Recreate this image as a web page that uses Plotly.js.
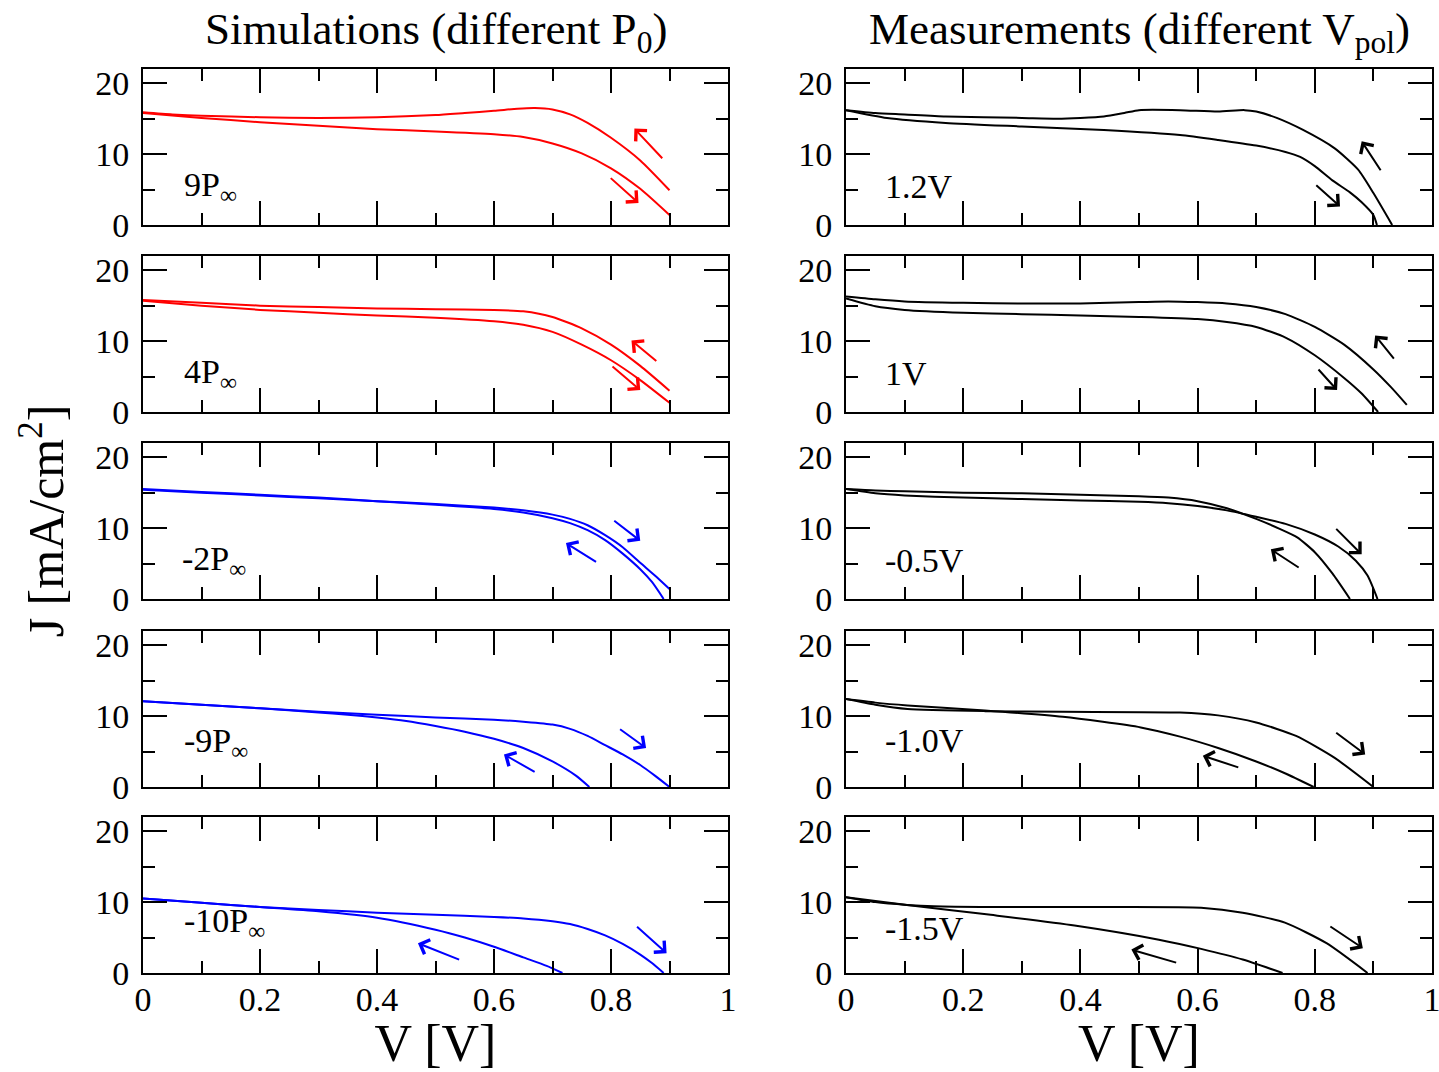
<!DOCTYPE html>
<html><head><meta charset="utf-8">
<script src="https://cdn.plot.ly/plotly-3.0.1.min.js"></script>
<style>html,body{margin:0;padding:0;background:#fff}#chart{width:1439px;height:1072px}</style>
</head><body><div id="chart"></div>
<script>
// ---------- DATA ----------
// Simulations 9P∞
const sim9_revV = [0,0.05,0.1,0.2,0.3,0.4,0.5,0.55,0.6,0.64,0.67,0.7,0.73,0.76,0.8,0.85,0.9];
const sim9_revJ = [15.9,15.6,15.4,15.2,15.1,15.2,15.5,15.8,16.1,16.4,16.5,16.3,15.6,14.4,12.3,9.1,4.9];
const sim9_fwdV = [0,0.1,0.2,0.3,0.4,0.5,0.6,0.65,0.7,0.75,0.8,0.85,0.9];
const sim9_fwdJ = [15.8,15.1,14.5,14.0,13.5,13.2,12.8,12.4,11.5,10.1,8.0,5.1,1.4];
// Simulations 4P∞
const sim4_revV = [0,0.1,0.2,0.3,0.4,0.5,0.6,0.65,0.7,0.75,0.8,0.85,0.9];
const sim4_revJ = [15.8,15.4,15.0,14.8,14.6,14.5,14.4,14.2,13.4,11.8,9.5,6.5,3.0];
const sim4_fwdV = [0,0.1,0.2,0.3,0.4,0.5,0.6,0.65,0.7,0.75,0.8,0.85,0.9];
const sim4_fwdJ = [15.7,15.0,14.4,14.0,13.6,13.3,12.8,12.3,11.3,9.5,7.3,4.5,1.3];
// Simulations -2P∞
const simm2_fwdV = [0,0.1,0.2,0.3,0.4,0.5,0.6,0.65,0.7,0.73,0.76,0.79,0.82,0.85,0.875,0.9];
const simm2_fwdJ = [15.4,15.0,14.6,14.2,13.8,13.4,12.9,12.5,11.9,11.3,10.4,9.0,7.3,5.1,3.3,1.4];
const simm2_revV = [0,0.1,0.2,0.3,0.4,0.5,0.6,0.65,0.7,0.73,0.76,0.79,0.82,0.85,0.87,0.89];
const simm2_revJ = [15.5,15.1,14.7,14.3,13.8,13.3,12.7,12.2,11.4,10.7,9.7,8.3,6.4,4.2,2.4,0];
// Simulations -9P∞
const simm9_fwdV = [0,0.1,0.2,0.3,0.4,0.5,0.6,0.65,0.7,0.73,0.76,0.79,0.82,0.85,0.875,0.9];
const simm9_fwdJ = [12.1,11.6,11.1,10.6,10.2,9.8,9.5,9.2,8.8,8.2,7.2,5.9,4.6,3.1,1.6,0];
const simm9_revV = [0,0.1,0.2,0.3,0.35,0.4,0.45,0.5,0.55,0.6,0.65,0.7,0.74,0.763];
const simm9_revJ = [12.1,11.6,11.1,10.5,10.2,9.8,9.3,8.6,7.8,6.8,5.5,3.6,1.6,0];
// Simulations -10P∞
const simm10_fwdV = [0,0.1,0.2,0.3,0.4,0.5,0.6,0.65,0.7,0.73,0.76,0.79,0.82,0.85,0.87,0.89];
const simm10_fwdJ = [10.5,9.9,9.3,8.9,8.5,8.2,7.9,7.7,7.3,6.9,6.2,5.3,4.1,2.6,1.4,0];
const simm10_revV = [0,0.1,0.2,0.3,0.4,0.5,0.55,0.6,0.65,0.69,0.717];
const simm10_revJ = [10.5,9.9,9.3,8.7,7.8,6.1,5.0,3.7,2.2,1.0,0];
// Measurements 1.2V
const m12_revV = [0,0.05,0.1,0.17,0.3,0.36,0.4,0.44,0.475,0.5,0.57,0.635,0.68,0.7,0.735,0.78,0.834,0.874,0.9,0.932];
const m12_revJ = [16.2,15.8,15.6,15.3,15.1,15.0,15.1,15.3,15.8,16.2,16.2,16.0,16.2,16.0,15.1,13.4,10.8,7.8,4.5,0];
const m12_fwdV = [0,0.07,0.17,0.3,0.44,0.57,0.635,0.7,0.75,0.775,0.8,0.83,0.86,0.88,0.9,0.906];
const m12_fwdJ = [16.2,15.1,14.4,13.9,13.4,12.7,12.0,11.2,10.3,9.6,8.3,6.3,4.6,3.2,1.4,0];
// Measurements 1V
const m1_revV = [0,0.05,0.1,0.2,0.3,0.4,0.5,0.55,0.6,0.65,0.7,0.75,0.8,0.85,0.9,0.93,0.957];
const m1_revJ = [16.3,15.9,15.6,15.4,15.3,15.3,15.5,15.6,15.5,15.3,14.8,13.8,12.0,9.5,6.0,3.5,1.0];
const m1_fwdV = [0,0.05,0.1,0.2,0.3,0.4,0.5,0.6,0.65,0.7,0.75,0.8,0.85,0.88,0.908];
const m1_fwdJ = [16.0,14.9,14.4,14.0,13.8,13.6,13.4,13.1,12.7,12.0,10.5,8.0,4.8,2.6,0];
// Measurements -0.5V
const mm05_fwdV = [0,0.05,0.1,0.2,0.3,0.4,0.5,0.55,0.6,0.65,0.7,0.75,0.8,0.84,0.87,0.89,0.907];
const mm05_fwdJ = [15.5,14.9,14.6,14.3,14.1,13.9,13.7,13.5,13.1,12.5,11.6,10.6,9.1,7.4,5.4,3.3,0];
const mm05_revV = [0,0.05,0.1,0.2,0.3,0.4,0.5,0.55,0.6,0.65,0.7,0.74,0.77,0.8,0.83,0.86];
const mm05_revJ = [15.5,15.3,15.2,15.0,14.9,14.7,14.5,14.3,13.8,12.8,11.3,9.9,8.7,6.6,3.6,0];
// Measurements -1.0V
const mm10_fwdV = [0,0.05,0.105,0.237,0.37,0.57,0.635,0.7,0.768,0.834,0.9];
const mm10_fwdJ = [12.4,11.6,11.0,10.7,10.6,10.5,10.1,9.1,7.2,4.1,0];
const mm10_revV = [0,0.05,0.105,0.237,0.37,0.503,0.57,0.635,0.7,0.75,0.798];
const mm10_revJ = [12.4,11.9,11.5,10.8,9.9,8.4,7.1,5.5,3.6,1.9,0];
// Measurements -1.5V
const mm15_fwdV = [0,0.05,0.104,0.15,0.247,0.46,0.606,0.677,0.749,0.82,0.89];
const mm15_fwdJ = [10.7,10.0,9.6,9.4,9.3,9.3,9.2,8.5,7.1,4.2,0];
const mm15_revV = [0,0.104,0.247,0.39,0.534,0.606,0.677,0.745];
const mm15_revJ = [10.7,9.6,8.2,6.7,4.7,3.4,1.9,0];

// Sweep-direction arrows: [tailV, tailJ, tipV, tipJ]
const sim9_arrows  = [[0.89,9.2,0.84,13.6],[0.797,6.8,0.847,3.1]];
const sim4_arrows  = [[0.88,7.0,0.835,10.1],[0.80,6.6,0.85,3.1]];
const simm2_arrows = [[0.803,11.2,0.85,8.2],[0.777,5.1,0.723,7.9]];
const simm9_arrows = [[0.813,8.3,0.86,5.5],[0.672,2.0,0.617,4.6]];
const simm10_arrows= [[0.842,6.7,0.895,2.8],[0.543,1.8,0.47,4.2]];
const m12_arrows   = [[0.914,7.5,0.88,11.8],[0.80,5.8,0.843,2.6]];
const m1_arrows    = [[0.937,7.3,0.903,10.8],[0.804,6.2,0.838,3.1]];
const mm05_arrows  = [[0.834,10.1,0.88,6.3],[0.775,4.3,0.725,7.0]];
const mm10_arrows  = [[0.834,7.8,0.886,4.6],[0.672,2.7,0.609,4.4]];
const mm15_arrows  = [[0.824,6.7,0.882,3.5],[0.566,1.4,0.487,3.3]];

const panelLabels = ['9P<sub>∞</sub>','1.2V','4P<sub>∞</sub>','1V','-2P<sub>∞</sub>','-0.5V','-9P<sub>∞</sub>','-1.0V','-10P<sub>∞</sub>','-1.5V'];
const colTitles = ['Simulations (different P<sub>0</sub>)','Measurements (different V<sub>pol</sub>)'];
const xTitle = 'V [V]';
const yTitle = 'J [mA/cm<sup>2</sup>]';

// ---------- BUILD ----------
const RED='#ff0000', BLUE='#0000ff', BLACK='#000000';
const panels = [
  {a:[sim9_fwdV,sim9_fwdJ],b:[sim9_revV,sim9_revJ],arr:sim9_arrows,c:RED},
  {a:[m12_fwdV,m12_fwdJ],b:[m12_revV,m12_revJ],arr:m12_arrows,c:BLACK},
  {a:[sim4_fwdV,sim4_fwdJ],b:[sim4_revV,sim4_revJ],arr:sim4_arrows,c:RED},
  {a:[m1_fwdV,m1_fwdJ],b:[m1_revV,m1_revJ],arr:m1_arrows,c:BLACK},
  {a:[simm2_fwdV,simm2_fwdJ],b:[simm2_revV,simm2_revJ],arr:simm2_arrows,c:BLUE},
  {a:[mm05_fwdV,mm05_fwdJ],b:[mm05_revV,mm05_revJ],arr:mm05_arrows,c:BLACK},
  {a:[simm9_fwdV,simm9_fwdJ],b:[simm9_revV,simm9_revJ],arr:simm9_arrows,c:BLUE},
  {a:[mm10_fwdV,mm10_fwdJ],b:[mm10_revV,mm10_revJ],arr:mm10_arrows,c:BLACK},
  {a:[simm10_fwdV,simm10_fwdJ],b:[simm10_revV,simm10_revJ],arr:simm10_arrows,c:BLUE},
  {a:[mm15_fwdV,mm15_fwdJ],b:[mm15_revV,mm15_revJ],arr:mm15_arrows,c:BLACK}
];

const W=1439, H=1072;
const colPx=[[143,728],[846,1432]];
const rowPx=[[69,225],[256,412],[443,599],[631,787],[817,973]];
const labelPos=[[0.066,5.3],[0.063,5.4],[0.066,5.3],[0.063,5.4],[0.063,5.3],[0.063,5.4],[0.066,6.2],[0.063,6.5],[0.066,7.0],[0.063,6.3]];
const FONT='Liberation Serif, Times New Roman, serif';

const traces=[]; const annotations=[];
const layout={width:W,height:H,margin:{l:0,r:0,t:0,b:0},paper_bgcolor:'#fff',plot_bgcolor:'#fff',showlegend:false,font:{family:FONT,color:'#000'}};

panels.forEach((p,i)=>{
  const r=Math.floor(i/2), c=i%2, n=i+1;
  const xs = n===1?'x':'x'+n, ys = n===1?'y':'y'+n;
  const xk = n===1?'xaxis':'xaxis'+n, yk = n===1?'yaxis':'yaxis'+n;
  const common={showline:true,linecolor:'#000',linewidth:2,mirror:'allticks',ticks:'inside',ticklen:24,tickwidth:2,tickcolor:'#000',
    showgrid:false,zeroline:false,fixedrange:true,tickfont:{family:FONT,size:34,color:'#000'},ticklabeloverflow:'allow'};
  layout[xk]=Object.assign({},common,{domain:[colPx[c][0]/W,colPx[c][1]/W],anchor:ys,range:[0,1],tick0:0,dtick:0.2,
    minor:{ticks:'inside',ticklen:12,tickwidth:2,tickcolor:'#000',dtick:0.1},
    showticklabels:r===4, ticklabelstandoff:-5});
  if(r===4) layout[xk].title={text:xTitle,font:{family:FONT,size:52,color:'#000'},standoff:14};
  layout[yk]=Object.assign({},common,{domain:[1-rowPx[r][1]/H,1-rowPx[r][0]/H],anchor:xs,range:[0,22],tick0:0,dtick:10,
    minor:{ticks:'inside',ticklen:12,tickwidth:2,tickcolor:'#000',dtick:5}, ticklabelstandoff:5});
  if(r===2 && c===0) layout[yk].title={text:yTitle,font:{family:FONT,size:50,color:'#000'},standoff:16};
  [p.a,p.b].forEach(d=>traces.push({x:d[0],y:d[1],xaxis:xs,yaxis:ys,type:'scatter',mode:'lines',
    line:{color:p.c,width:2,shape:'spline',smoothing:0.6},hoverinfo:'skip'}));
  p.arr.forEach(a=>annotations.push({xref:xs,yref:ys,axref:xs,ayref:ys,ax:a[0],ay:a[1],x:a[2],y:a[3],text:'',
    showarrow:true,arrowhead:4,arrowsize:1.5,arrowwidth:2,arrowcolor:p.c}));
  annotations.push({xref:xs,yref:ys,x:labelPos[i][0],y:labelPos[i][1],xanchor:'left',yanchor:'middle',showarrow:false,
    text:panelLabels[i],font:{family:FONT,size:34,color:'#000'}});
});
colTitles.forEach((t,c)=>annotations.push({xref:'paper',yref:'paper',x:(colPx[c][0]+colPx[c][1])/2/W,y:1-32/H,
  xanchor:'center',yanchor:'middle',showarrow:false,text:t,font:{family:FONT,size:45,color:'#000'}}));
layout.annotations=annotations;

Plotly.newPlot('chart',traces,layout,{staticPlot:true,displayModeBar:false});
</script></body></html>
